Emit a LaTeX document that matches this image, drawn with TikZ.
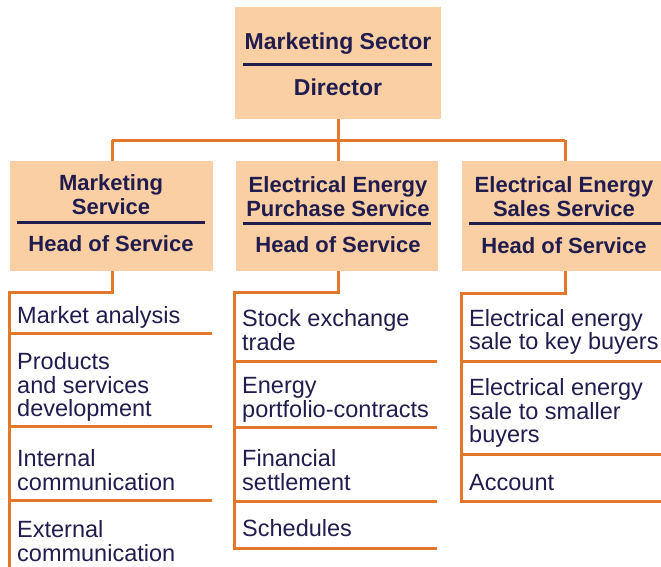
\documentclass[tikz,border=0pt]{standalone}
\usepackage{fontspec}
\setmainfont{Liberation Sans}
\definecolor{peach}{RGB}{250,207,164}
\definecolor{wire}{RGB}{228,120,42}
\definecolor{ink}{RGB}{32,28,78}
\begin{document}
\begin{tikzpicture}[x=1pt,y=-1pt,
  headbox/.style={fill=peach, draw=none, inner sep=0pt},
  headtext/.style={text=ink, font=\fontsize{22}{24}\selectfont\bfseries, align=center, inner sep=0pt},
  rule/.style={draw=ink, line width=3pt},
  conn/.style={draw=wire, line width=3pt},
  item/.style={text=ink, font=\fontsize{23.5}{23.5}\selectfont, align=left, anchor=west, inner sep=0pt}]
\useasboundingbox (0,0) rectangle (661,566);

% boxes
\node[headbox, minimum width=206pt, minimum height=112pt] (dir) at (338,63) {};
\node[headbox, minimum width=203pt, minimum height=110pt] (ms) at (111.5,216) {};
\node[headbox, minimum width=202pt, minimum height=110pt] (ps) at (337,216) {};
\node[headbox, minimum width=200pt, minimum height=110pt] (es) at (562,216) {};

% box texts
\node[headtext, font=\fontsize{23}{24}\selectfont\bfseries] (dirT) at (338,44) {Marketing Sector};
\node[headtext, font=\fontsize{23}{24}\selectfont\bfseries] (dirR) at (338,87) {Director};
\draw[rule] (243,64) -- (432,64);

\node[headtext] (msT) at (111,195) {Marketing\\Service};
\draw[rule] (17,222) -- (205,222);
\node[headtext] (msR) at (111,244) {Head of Service};

\node[headtext] (psT) at (338,197) {Electrical Energy\\Purchase Service};
\draw[rule] (243,223) -- (431,223);
\node[headtext] (psR) at (338,245) {Head of Service};

\node[headtext] (esT) at (564,197) {Electrical Energy\\Sales Service};
\draw[rule] (469,223) -- (661,223);
\node[headtext] (esR) at (564,246) {Head of Service};

% connectors between levels
\coordinate (busL) at (112,140);
\coordinate (busR) at (565,140);
\draw[conn] (busL) -- (busR);
\draw[conn] (dir.south) -- (dir.south |- busL);
\draw[conn] (busL) -- (busL |- ms.north);
\draw[conn] (dir.south |- busL) -- (dir.south |- ps.north);
\draw[conn] (busR) -- (busR |- es.north);

% column 1
\coordinate (c1) at (9,292);
\draw[conn] (ms.south -| busL) -- (busL |- c1) -- (c1) -- (9,567);
\draw[conn] (9,333) -- (212,333);
\draw[conn] (9,426) -- (212,426);
\draw[conn] (9,500) -- (212,500);
\node[item] (m1) at (17,317) {Market analysis};
\node[item] (m2) at (17,387) {Products\\and services\\development};
\node[item] (m3) at (17,470) {Internal\\communication};
\node[item] (m4) at (17,541) {External\\communication};

% column 2
\coordinate (c2) at (234,292);
\draw[conn] (ps.south -| dir.south) -- (dir.south |- c2) -- (c2) -- (234,548) -- (437,548);
\draw[conn] (234,361) -- (437,361);
\draw[conn] (234,427) -- (437,427);
\draw[conn] (234,501) -- (437,501);
\node[item] (p1) at (242,330) {Stock exchange\\trade};
\node[item] (p2) at (242,400) {Energy\\portfolio-contracts};
\node[item] (p3) at (242,470) {Financial\\settlement};
\node[item] (p4) at (242,528) {Schedules};

% column 3
\coordinate (c3) at (461,293);
\draw[conn] (es.south -| busR) -- (busR |- c3) -- (c3) -- (461,501) -- (661,501);
\draw[conn] (461,361) -- (661,361);
\draw[conn] (461,454) -- (661,454);
\node[item] (s1) at (469,332) {Electrical energy\\sale to key buyers};
\node[item] (s2) at (469,413) {Electrical energy\\sale to smaller\\buyers};
\node[item] (s3) at (469,483) {Account};
\end{tikzpicture}
\end{document}
